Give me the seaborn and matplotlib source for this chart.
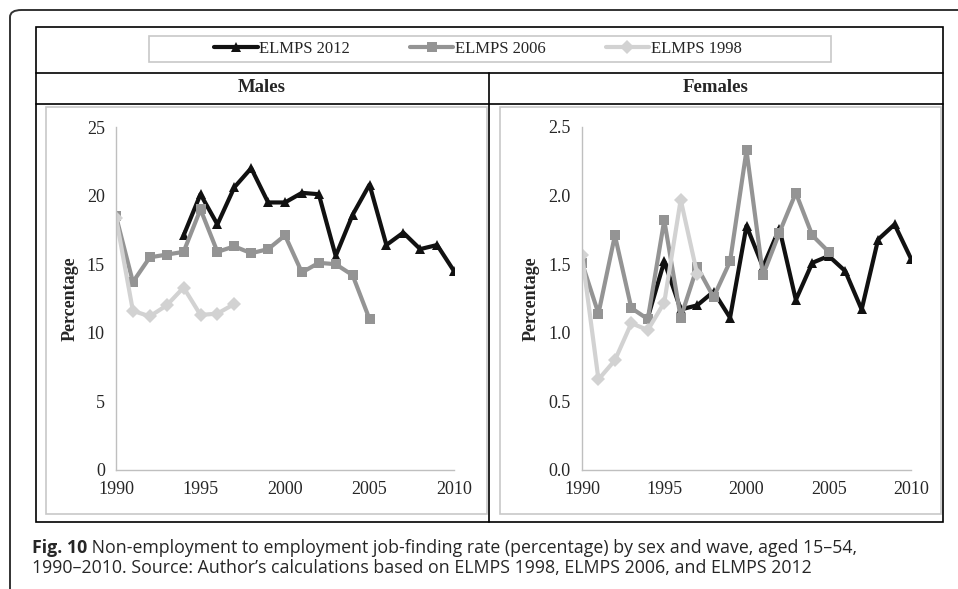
import pandas as pd
import matplotlib.pyplot as plt
import seaborn as sns
from matplotlib.patches import Rectangle, FancyBboxPatch
from matplotlib.lines import Line2D

sns.set_style('white')
plt.rcParams['font.family'] = ['Liberation Serif', 'DejaVu Serif']

# data
years_2012 = list(range(1994, 2011))
males_2012 = [17.1, 20.1, 17.9, 20.6, 22.0, 19.5, 19.5, 20.2, 20.1, 15.6, 18.6, 20.8, 16.4, 17.3, 16.1, 16.4, 14.5]
females_2012 = [1.11, 1.52, 1.17, 1.20, 1.30, 1.11, 1.78, 1.48, 1.76, 1.24, 1.51, 1.56, 1.45, 1.17, 1.68, 1.79, 1.54]

years_2006 = list(range(1990, 2006))
males_2006 = [18.5, 13.7, 15.5, 15.7, 15.9, 19.0, 15.9, 16.3, 15.8, 16.1, 17.1, 14.4, 15.1, 15.0, 14.2, 11.0]
females_2006 = [1.51, 1.14, 1.71, 1.18, 1.10, 1.82, 1.11, 1.48, 1.26, 1.52, 2.33, 1.42, 1.73, 2.02, 1.71, 1.59]

years_1998 = list(range(1990, 1998))
males_1998 = [18.4, 11.6, 11.2, 12.0, 13.3, 11.3, 11.4, 12.1]
females_1998 = [1.57, 0.66, 0.80, 1.07, 1.02, 1.22, 1.97, 1.43]

waves = ['ELMPS 2012', 'ELMPS 2006', 'ELMPS 1998']
colors = {'ELMPS 2012': '#111111', 'ELMPS 2006': '#949494', 'ELMPS 1998': '#d2d2d2'}
markers = {'ELMPS 2012': '^', 'ELMPS 2006': 's', 'ELMPS 1998': 'D'}

rows = []
for wave, yrs, m, f in [('ELMPS 2012', years_2012, males_2012, females_2012),
                        ('ELMPS 2006', years_2006, males_2006, females_2006),
                        ('ELMPS 1998', years_1998, males_1998, females_1998)]:
    for y, mv, fv in zip(yrs, m, f):
        rows.append({'year': y, 'wave': wave, 'sex': 'Males', 'value': mv})
        rows.append({'year': y, 'wave': wave, 'sex': 'Females', 'value': fv})
df = pd.DataFrame(rows)

W, H = 958, 589
fig = plt.figure(figsize=(W / 100, H / 100), dpi=100)


def fx(x):
    return x / W


def fy(y):
    return 1 - y / H


def hline(x0, x1, y, color='black', lw=1.2):
    fig.add_artist(Line2D([fx(x0), fx(x1)], [fy(y), fy(y)], color=color, lw=lw))


def vline(x, y0, y1, color='black', lw=1.2):
    fig.add_artist(Line2D([fx(x), fx(x)], [fy(y0), fy(y1)], color=color, lw=lw))


# outer rounded frame (runs off the right and bottom edges)
fig.add_artist(FancyBboxPatch((fx(10), fy(640)), fx(1000), fy(10) - fy(640),
                              boxstyle='round,pad=0,rounding_size=0.012',
                              fill=False, ec='#333333', lw=1.4))

# table
fig.add_artist(Rectangle((fx(36), fy(522)), fx(943 - 36), fy(27) - fy(522),
                         fill=False, ec='black', lw=1.2))
hline(36, 943, 73)
hline(36, 943, 104)
vline(489, 73, 522)
fig.add_artist(Rectangle((fx(46), fy(514)), fx(487 - 46), fy(107) - fy(514),
                         fill=False, ec='#c8c8c8', lw=1.2))
fig.add_artist(Rectangle((fx(500), fy(514)), fx(941 - 500), fy(107) - fy(514),
                         fill=False, ec='#c8c8c8', lw=1.2))
fig.add_artist(Rectangle((fx(149), fy(62)), fx(831 - 149), fy(36) - fy(62),
                         fill=False, ec='#c8c8c8', lw=1.2))

fig.text(fx(262), fy(88), 'Males', ha='center', va='center', fontsize=13.5, fontweight='bold')
fig.text(fx(716), fy(88), 'Females', ha='center', va='center', fontsize=13.5, fontweight='bold')

panels = [('Males', 116, 454, 25, [0, 5, 10, 15, 20, 25], '{:.0f}'),
          ('Females', 582, 911, 2.5, [0, 0.5, 1.0, 1.5, 2.0, 2.5], '{:.1f}')]

for sex, x0, x1, ymax, yticks, fmt in panels:
    ax = fig.add_axes([fx(x0), fy(470), fx(x1 - x0), fy(127) - fy(470)])
    ax.patch.set_alpha(0)
    sns.lineplot(data=df[df['sex'] == sex], x='year', y='value', hue='wave', style='wave',
                 hue_order=waves, style_order=waves, palette=colors, markers=markers,
                 dashes=False, lw=3.0, markersize=7.5, markeredgewidth=0, legend=False, ax=ax)
    ax.set_xlim(1990, 2010)
    ax.set_ylim(0, ymax)
    ax.set_xticks([1990, 1995, 2000, 2005, 2010])
    ax.set_yticks(yticks)
    ax.set_yticklabels([fmt.format(v) for v in yticks])
    for s in ['top', 'right']:
        ax.spines[s].set_visible(False)
    for s in ['left', 'bottom']:
        ax.spines[s].set_color('#bfbfbf')
        ax.spines[s].set_linewidth(1.0)
    ax.tick_params(axis='x', direction='in', length=4, width=1, color='#bfbfbf', pad=8, labelsize=13)
    ax.tick_params(axis='y', direction='out', length=5, width=1, color='#bfbfbf', pad=3, labelsize=13)
    ax.set_xlabel('')
    ax.set_ylabel('Percentage', fontsize=13, fontweight='bold', labelpad=6)

handles = [Line2D([], [], color=colors[w], marker=markers[w], lw=3.0, markersize=7.5,
                  markeredgewidth=0) for w in waves]
fig.legend(handles, waves, loc='center', bbox_to_anchor=(fx(478), fy(49)), ncol=3,
           frameon=False, fontsize=12, handlelength=2.6, handletextpad=0.1, columnspacing=3.6)

cap = fig.text(fx(32), fy(548), 'Fig. 10', ha='left', va='center', fontsize=12.8,
               fontweight='bold', family=['Open Sans', 'DejaVu Sans'])
plt.annotate(' Non-employment to employment job-finding rate (percentage) by sex and wave, aged 15\u201354,',
             xy=(1, 0.5), xycoords=cap, ha='left', va='center', fontsize=12.8,
             family=['Open Sans', 'DejaVu Sans'], annotation_clip=False)
fig.text(fx(32), fy(568), '1990\u20132010. Source: Author\u2019s calculations based on ELMPS 1998, ELMPS 2006, and ELMPS 2012',
         ha='left', va='center', fontsize=12.8, family=['Open Sans', 'DejaVu Sans'])

plt.savefig('out.png', dpi=100)
